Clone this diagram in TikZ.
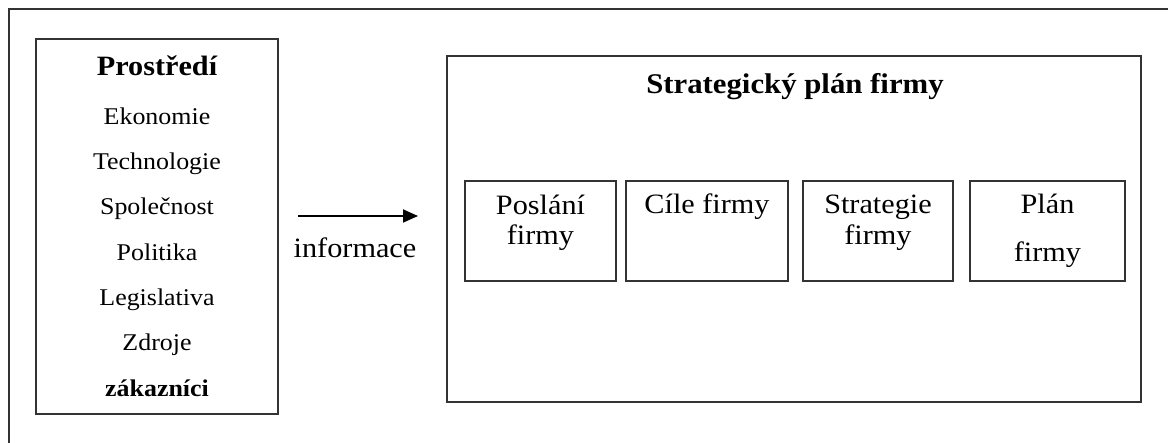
\documentclass[tikz,border=0pt]{standalone}
\usepackage{fontspec}
\setmainfont{Liberation Serif}[FakeStretch=1.08]
\usetikzlibrary{arrows.meta}
\begin{document}
\begin{tikzpicture}[x=1pt,y=-1pt,
  frame/.style={draw=black!80,line width=1.9pt},
  box/.style={frame,inner sep=0pt},
  itemtxt/.style={anchor=base,inner sep=0pt,font=\fontsize{24}{28}\selectfont},
  bigtxt/.style={anchor=base,inner sep=0pt,font=\fontsize{28}{32}\selectfont},
  headtxt/.style={anchor=base,inner sep=0pt,font=\fontsize{28.5}{32}\selectfont\bfseries}]
\useasboundingbox (0,0) rectangle (1168,443);
% outer frame (only top and left edges visible)
\draw[frame] (9,443) -- (9,9) -- (1168,9);
% left box
\node[box,minimum width=242pt,minimum height=375pt] (env) at (157,226.5) {};
\node[headtxt,font=\fontsize{28}{32}\selectfont\bfseries] (envh) at (157,76) {Prostředí};
\node[itemtxt] (i1) at (157,125) {Ekonomie};
\node[itemtxt] (i2) at (157,170) {Technologie};
\node[itemtxt] (i3) at (157,215) {Společnost};
\node[itemtxt] (i4) at (157,261) {Politika};
\node[itemtxt] (i5) at (157,306) {Legislativa};
\node[itemtxt] (i6) at (157,351) {Zdroje};
\node[itemtxt,font=\fontsize{24}{28}\selectfont\bfseries] (i7) at (157,397) {zákazníci};
% arrow
\coordinate (as) at (298,216);
\coordinate (ae) at (418,216);
\draw[line width=1.8pt,-{Triangle[length=15pt,width=13pt]}] (as) -- (ae);
\node[bigtxt] (info) at (355,258) {informace};
% big box
\node[box,minimum width=694pt,minimum height=346pt] (plan) at (794,229) {};
\node[headtxt] (planh) at (795,94) {Strategický plán firmy};
% inner boxes
\node[box,minimum width=151pt,minimum height=100pt] (b1) at (540.5,231) {};
\node[box,minimum width=162pt,minimum height=100pt] (b2) at (707,231) {};
\node[box,minimum width=150pt,minimum height=100pt] (b3) at (878,231) {};
\node[box,minimum width=155pt,minimum height=100pt] (b4) at (1047.5,231) {};
\node[bigtxt] (t1a) at (540.5,215) {Poslání};
\node[bigtxt] (t1b) at (540.5,245) {firmy};
\node[bigtxt] (t2a) at (707,214) {Cíle firmy};
\node[bigtxt] (t3a) at (878,214) {Strategie};
\node[bigtxt] (t3b) at (878,245) {firmy};
\node[bigtxt] (t4a) at (1047.5,214) {Plán};
\node[bigtxt] (t4b) at (1047.5,262) {firmy};
\end{tikzpicture}
\end{document}
